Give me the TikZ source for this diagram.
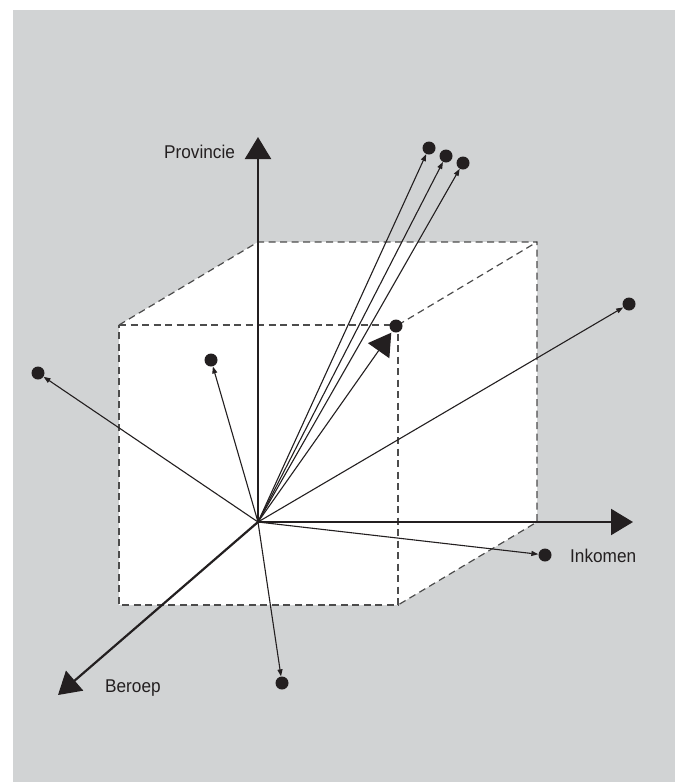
\documentclass[tikz,border=0pt]{standalone}
\usepackage{fontspec}
\setmainfont[FakeStretch=0.93]{Liberation Sans}
\usetikzlibrary{arrows.meta}
\definecolor{panel}{HTML}{D1D3D4}
\definecolor{ink}{HTML}{231F20}
\begin{document}
\begin{tikzpicture}[x=1pt,y=-1pt,
  axis/.style={draw=ink,line width=2.2pt,-{Triangle[length=22pt,width=26pt]}},
  vec/.style={draw=ink,line width=1.1pt,-{Triangle[length=7pt,width=5pt]}},
  bigvec/.style={draw=ink,line width=1.1pt,-{Triangle[length=22pt,width=26pt]}},
  edge/.style={draw=black!70,line width=1.2pt,dash pattern=on 7pt off 4.5pt},
  pt/.style={circle,fill=ink,inner sep=0pt,minimum size=13pt},
  lbl/.style={anchor=base west,inner sep=0pt,text=ink,font=\fontsize{18.5}{20}\selectfont}]
\useasboundingbox (0,0) rectangle (680,782);
\fill[panel] (13,10) rectangle (675,782);

% cube (front face and back face offset by (139,-83))
\coordinate (o) at (258,522);
\coordinate (f1) at (119,325);
\coordinate (f2) at (398,325);
\coordinate (f3) at (398,605);
\coordinate (f4) at (119,605);
\coordinate (b1) at (258,242);
\coordinate (b2) at (537,242);
\coordinate (b3) at (537,522);
\fill[white] (f1) -- (b1) -- (b2) -- (b3) -- (f3) -- (f4) -- cycle;
\draw[edge] (f1) -- (f2) -- (f3) -- (f4) -- cycle;
\draw[edge] (f1) -- (b1) -- (b2) -- (b3) -- (f3);
\draw[edge] (f2) -- (b2);

% data points
\node[pt] (p1) at (429,148) {};
\node[pt] (p2) at (446,156) {};
\node[pt] (p3) at (463,163) {};
\node[pt] (p4) at (396,326) {};
\node[pt] (p5) at (38,373) {};
\node[pt] (p6) at (211,360) {};
\node[pt] (p7) at (629,304) {};
\node[pt] (p8) at (545,555) {};
\node[pt] (p9) at (282,683) {};

% vectors from the origin
\foreach \p in {p1,p2,p3,p5,p6,p7,p8,p9}
  \draw[vec] (o) -- (\p);
\draw[bigvec,shorten >=1.5pt] (o) -- (p4);

% axes
\coordinate (ytip) at (258,137);
\coordinate (xtip) at (633,522);
\coordinate (ztip) at (58,695);
\draw[axis] (o) -- (ytip);
\draw[axis] (o) -- (xtip);
\draw[axis] (o) -- (ztip);

% axis labels
\node[lbl] (ly) at (164,158) {Provincie};
\node[lbl] (lx) at (570,562) {Inkomen};
\node[lbl] (lz) at (105,692) {Beroep};
\end{tikzpicture}
\end{document}
